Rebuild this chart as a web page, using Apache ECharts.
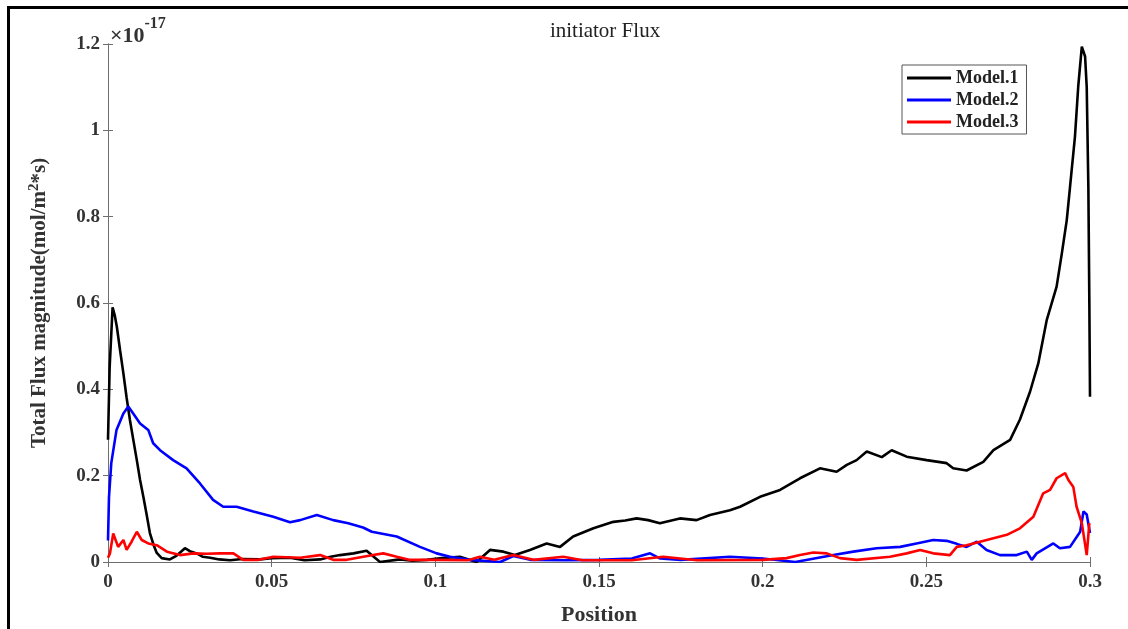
<!DOCTYPE html>
<html>
<head>
<meta charset="utf-8">
<script src="https://cdn.jsdelivr.net/npm/echarts@6/dist/echarts.min.js"></script>
<style>html,body{margin:0;padding:0;background:#fff;}#c{width:1128px;height:629px;}</style>
</head>
<body>
<div id="c"></div>
<script>
const seriesNames = ['Model.1', 'Model.2', 'Model.3'];
const xTicks = [0, 0.05, 0.1, 0.15, 0.2, 0.25, 0.3];
const yTicks = [0, 0.2, 0.4, 0.6, 0.8, 1, 1.2];

// values in units of 1e-17 mol/(m^2*s)
const model1 = [
  [0,0.283],[0.0005,0.45],[0.0014,0.59],[0.0021,0.57],[0.0027,0.545],[0.0037,0.49],[0.0047,0.437],[0.0057,0.38],[0.0067,0.329],
  [0.0078,0.28],[0.0088,0.236],[0.0098,0.19],[0.0108,0.151],[0.0118,0.11],[0.0128,0.067],[0.0139,0.04],[0.0149,0.021],[0.0164,0.009],
  [0.0189,0.006],[0.021,0.015],[0.0235,0.032],[0.025,0.025],[0.0271,0.02],[0.029,0.012],[0.0312,0.01],[0.034,0.006],[0.0373,0.004],
  [0.041,0.007],[0.0464,0.006],[0.05,0.009],[0.0556,0.01],[0.06,0.004],[0.0648,0.006],[0.068,0.012],[0.0709,0.016],[0.075,0.02],
  [0.079,0.026],[0.0831,0.0],[0.0892,0.006],[0.093,0.003],[0.0974,0.005],[0.102,0.009],[0.1075,0.012],[0.1126,0.0],[0.1167,0.028],
  [0.1208,0.024],[0.1243,0.016],[0.1289,0.028],[0.134,0.043],[0.1381,0.035],[0.1421,0.059],[0.1483,0.078],[0.1544,0.093],[0.158,0.096],
  [0.1615,0.101],[0.165,0.097],[0.1686,0.090],[0.1747,0.101],[0.1798,0.097],[0.1839,0.109],[0.19,0.12],[0.1931,0.128],[0.1992,0.151],
  [0.2053,0.167],[0.2114,0.194],[0.2175,0.217],[0.2226,0.209],[0.2257,0.225],[0.2287,0.236],[0.2318,0.256],[0.2364,0.243],[0.2394,0.259],
  [0.244,0.244],[0.2501,0.236],[0.2562,0.229],[0.2582,0.217],[0.2623,0.212],[0.2674,0.232],[0.2705,0.259],[0.2756,0.283],[0.2786,0.33],
  [0.2817,0.395],[0.2842,0.46],[0.2868,0.561],[0.2898,0.638],[0.2914,0.715],[0.2929,0.792],[0.2939,0.869],[0.2954,0.985],[0.2964,1.101],
  [0.2975,1.194],[0.298,1.198],[0.2985,1.171],[0.299,1.10],[0.2995,0.869],[0.2998,0.6],[0.3,0.383]
];
const model2 = [
  [0,0.05],[0.0003,0.15],[0.001,0.229],[0.0026,0.306],[0.0047,0.344],[0.0062,0.36],[0.0077,0.344],[0.0098,0.321],[0.0123,0.306],
  [0.0138,0.275],[0.0159,0.259],[0.0199,0.236],[0.024,0.217],[0.0281,0.182],[0.0321,0.144],[0.0352,0.128],[0.0393,0.128],[0.0444,0.117],
  [0.0505,0.105],[0.0556,0.092],[0.0587,0.097],[0.0638,0.109],[0.0688,0.097],[0.0734,0.09],[0.0779,0.08],[0.0806,0.07],[0.0882,0.059],
  [0.0953,0.035],[0.1004,0.02],[0.1045,0.012],[0.1106,0.005],[0.1198,0.0],[0.1238,0.014],[0.129,0.005],[0.14,0.004],[0.15,0.005],
  [0.16,0.008],[0.1656,0.02],[0.1687,0.008],[0.175,0.005],[0.19,0.012],[0.2,0.008],[0.21,0.0],[0.2216,0.016],[0.2277,0.024],
  [0.2348,0.032],[0.242,0.035],[0.247,0.043],[0.2521,0.051],[0.2562,0.049],[0.2593,0.042],[0.2623,0.035],[0.2654,0.047],[0.2684,0.028],
  [0.2725,0.016],[0.2776,0.016],[0.2807,0.024],[0.2822,0.005],[0.2837,0.02],[0.2888,0.043],[0.2908,0.032],[0.2939,0.035],[0.297,0.07],
  [0.298,0.117],[0.299,0.11],[0.3,0.067]
];
const model3 = [
  [0,0.01],[0.0006,0.02],[0.0016,0.066],[0.0031,0.035],[0.0047,0.051],[0.0057,0.028],[0.0072,0.047],[0.0088,0.07],[0.0103,0.051],
  [0.0123,0.043],[0.0149,0.039],[0.018,0.024],[0.022,0.016],[0.0261,0.02],[0.0301,0.019],[0.0342,0.02],[0.0383,0.02],[0.0413,0.005],
  [0.046,0.005],[0.0505,0.012],[0.0587,0.01],[0.0648,0.016],[0.0688,0.005],[0.0729,0.005],[0.081,0.016],[0.0841,0.02],[0.0882,0.012],
  [0.092,0.005],[0.1,0.005],[0.11,0.004],[0.1136,0.012],[0.118,0.005],[0.1238,0.016],[0.13,0.005],[0.1391,0.012],[0.145,0.004],
  [0.16,0.004],[0.1696,0.012],[0.18,0.004],[0.2,0.005],[0.2073,0.009],[0.2114,0.016],[0.2155,0.022],[0.2196,0.02],[0.2236,0.009],
  [0.2287,0.005],[0.2389,0.012],[0.244,0.02],[0.2481,0.028],[0.2521,0.02],[0.2572,0.016],[0.2593,0.035],[0.2623,0.039],[0.2664,0.047],
  [0.2705,0.055],[0.2746,0.063],[0.2786,0.078],[0.2827,0.105],[0.2857,0.159],[0.2878,0.167],[0.2898,0.194],[0.2924,0.206],[0.2934,0.19],
  [0.2949,0.174],[0.2959,0.128],[0.2975,0.09],[0.299,0.016],[0.2998,0.09]
];

const FONT = '"Liberation Serif", "Times New Roman", serif';
const axisGray = '#6e6e6e';
const chart = echarts.init(document.getElementById('c'));
const tickStyle = {show: true, inside: true, length: 5, lineStyle: {color: axisGray, width: 1}};

chart.setOption({
  animation: false,
  backgroundColor: '#fff',
  title: {
    text: 'initiator Flux', left: 600, top: 16, textAlign: 'center',
    textStyle: {fontFamily: FONT, fontSize: 21, fontWeight: 'normal', color: '#222'}
  },
  grid: {left: 108, top: 44, width: 982, height: 518, containLabel: false, outerBoundsMode: 'none'},
  legend: {
    data: seriesNames, orient: 'vertical', left: 902, top: 65,
    icon: 'rect', itemWidth: 44, itemHeight: 3, itemGap: 4,
    padding: [4, 8, 3, 5], borderColor: '#555', borderWidth: 1, backgroundColor: '#fff',
    textStyle: {fontFamily: FONT, fontSize: 18, fontWeight: 'bold', color: '#222', padding: [0,0,0,0]}
  },
  xAxis: [{
    type: 'value', min: 0, max: 0.3, interval: 0.05,
    name: 'Position', nameLocation: 'middle', nameGap: 42,
    nameTextStyle: {fontFamily: FONT, fontSize: 22, fontWeight: 'bold', color: '#333'},
    axisLine: {show: true, lineStyle: {color: axisGray, width: 1}},
    axisTick: tickStyle, splitLine: {show: false},
    axisLabel: {fontFamily: FONT, fontSize: 19, fontWeight: 'bold', color: '#333', margin: 11}
  }, {
    type: 'value', position: 'top', min: 0, max: 0.3, interval: 0.05,
    axisLine: {show: true, lineStyle: {color: axisGray, width: 1}},
    axisTick: tickStyle, axisLabel: {show: false}, splitLine: {show: false}
  }],
  yAxis: [{
    type: 'value', min: 0, max: 1.2, interval: 0.2,
    name: 'Total Flux magnitude(mol/m{sup|2}*s)', nameLocation: 'middle', nameGap: 56,
    nameTextStyle: {fontFamily: FONT, fontSize: 21, fontWeight: 'bold', color: '#333',
      rich: {sup: {fontFamily: FONT, fontSize: 15, fontWeight: 'bold', color: '#333', verticalAlign: 'top', padding: [0,0,10,0]}}},
    axisLine: {show: true, lineStyle: {color: axisGray, width: 1}},
    axisTick: tickStyle, splitLine: {show: false},
    axisLabel: {fontFamily: FONT, fontSize: 19, fontWeight: 'bold', color: '#333', margin: 8}
  }, {
    type: 'value', position: 'right', min: 0, max: 1.2, interval: 0.2,
    axisLine: {show: true, lineStyle: {color: axisGray, width: 1}},
    axisTick: tickStyle, axisLabel: {show: false}, splitLine: {show: false}
  }],
  graphic: [
    {type: 'rect', left: 6, top: 5, z: 100, silent: true,
     shape: {width: 1140, height: 660}, style: {fill: 'none', stroke: '#000', lineWidth: 3}},
    {type: 'text', left: 110, top: 16, z: 100,
     style: {text: '{a|×10}{b|-17}', fill: '#333',
       rich: {a: {fontFamily: FONT, fontSize: 22, fontWeight: 'bold', fill: '#333', padding: [9,0,0,0]},
              b: {fontFamily: FONT, fontSize: 16, fontWeight: 'bold', fill: '#333', verticalAlign: 'top'}}}}
  ],
  series: [
    {name: seriesNames[0], type: 'line', data: model1, showSymbol: false, lineStyle: {color: '#000', width: 2.6}, itemStyle: {color: '#000'}},
    {name: seriesNames[1], type: 'line', data: model2, showSymbol: false, lineStyle: {color: '#0000ff', width: 2.6}, itemStyle: {color: '#0000ff'}},
    {name: seriesNames[2], type: 'line', data: model3, showSymbol: false, lineStyle: {color: '#ff0000', width: 2.6}, itemStyle: {color: '#ff0000'}}
  ]
});
</script>
</body>
</html>
